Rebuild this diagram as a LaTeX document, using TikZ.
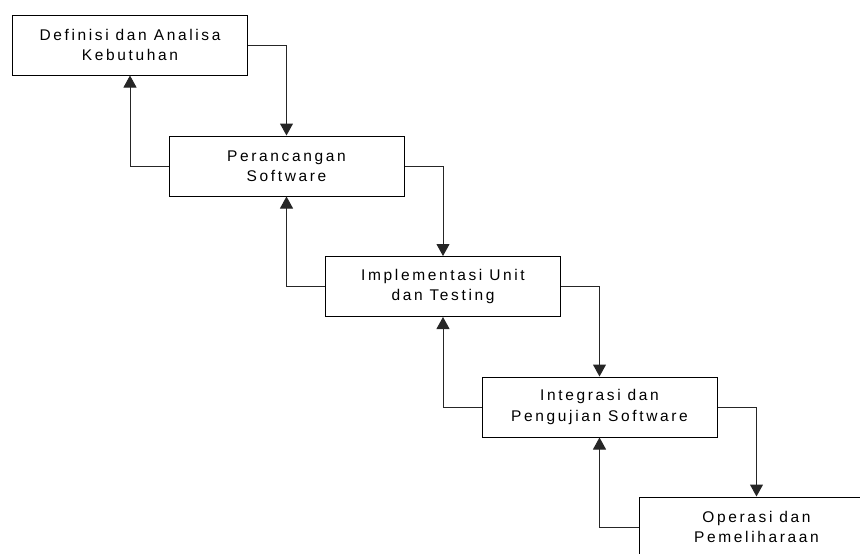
\documentclass[tikz,border=0pt]{standalone}
\usepackage{fontspec}
\setmainfont{Liberation Sans}[LetterSpace=17]
\usetikzlibrary{arrows.meta}
\begin{document}
\begin{tikzpicture}[x=1pt, y=-1pt,
    stage/.style={draw, line width=1pt, minimum width=235pt, minimum height=60pt,
      inner sep=0pt, align=center, font=\fontsize{15.5}{20.5}\selectfont},
    flow/.style={draw=black!85, line width=1pt, -{Triangle[width=13pt,length=12pt]}}]
  \useasboundingbox (0,0) rectangle (860,554);
  \clip (0,0) rectangle (860,554);
  % Stages (step down to the right)
  \node[stage] (def) at (130,45)    {Definisi dan Analisa\\Kebutuhan};
  \node[stage] (ran) at (286.5,166) {Perancangan\\Software};
  \node[stage] (imp) at (443,286.5) {Implementasi Unit\\dan Testing};
  \node[stage] (int) at (599.5,407) {Integrasi dan\\Pengujian Software};
  \node[stage] (ope) at (756.5,527) {Operasi dan\\Pemeliharaan};
  % Forward flow
  \draw[flow] (def.east) -| (ran.north);
  \draw[flow] (ran.east) -| (imp.north);
  \draw[flow] (imp.east) -| (int.north);
  \draw[flow] (int.east) -| (ope.north);
  % Feedback to previous stage
  \draw[flow] (ran.west) -| (def.south);
  \draw[flow] (imp.west) -| (ran.south);
  \draw[flow] (int.west) -| (imp.south);
  \draw[flow] (ope.west) -| (int.south);
\end{tikzpicture}
\end{document}
